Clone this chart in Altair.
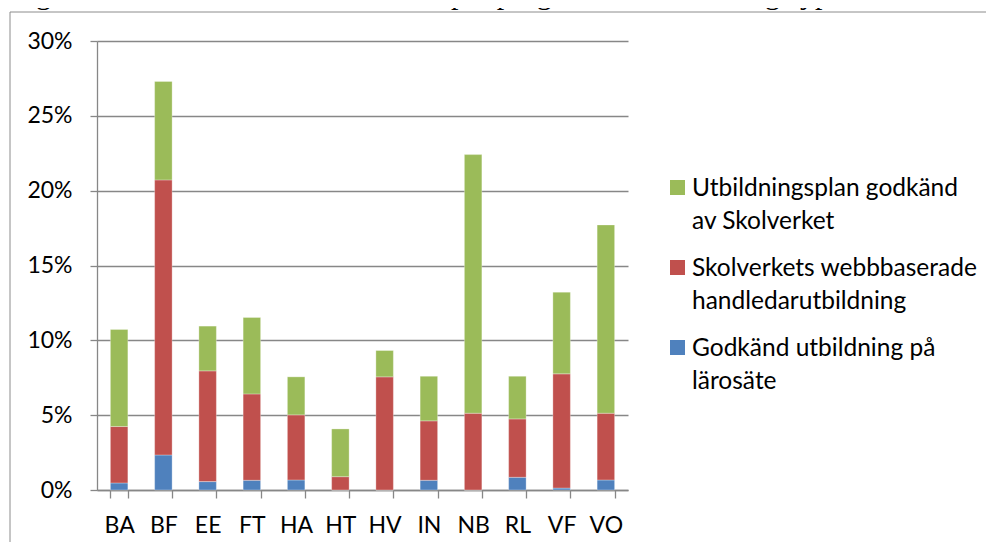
import altair as alt
import pandas as pd

# ---- data (percent values) ----
programs = ["BA", "BF", "EE", "FT", "HA", "HT", "HV", "IN", "NB", "RL", "VF", "VO"]
larosate = [0.47, 2.34, 0.56, 0.65, 0.67, 0.00, 0.00, 0.65, 0.00, 0.85, 0.13, 0.67]
webb     = [3.77, 18.38, 7.40, 5.77, 4.35, 0.89, 7.56, 3.97, 5.13, 3.90, 7.63, 4.46]
plan     = [6.49, 6.58, 2.99, 5.11, 2.54, 3.19, 1.76, 2.98, 17.28, 2.85, 5.46, 12.58]

series = [
    "Utbildningsplan godkänd av Skolverket",
    "Skolverkets webbbaserade handledarutbildning",
    "Godkänd utbildning på lärosäte",
]
legend_line1 = ["Utbildningsplan godkänd", "Skolverkets webbbaserade", "Godkänd utbildning på"]
legend_line2 = ["av Skolverket", "handledarutbildning", "lärosäte"]
colors = ["#9BBB59", "#C0504D", "#4F81BD"]
y_ticks = [0, 5, 10, 15, 20, 25, 30]
title_text = "Figur 6. Andel utbildade handledare per program och utbildningstyp våren 2013"

# ---- tables ----
rows = []
for i, p in enumerate(programs):
    rows.append({"program": p, "series": series[2], "value": larosate[i], "stack_idx": 0})
    rows.append({"program": p, "series": series[1], "value": webb[i], "stack_idx": 1})
    rows.append({"program": p, "series": series[0], "value": plan[i], "stack_idx": 2})
bars_df = pd.DataFrame(rows)
legend_df = pd.DataFrame({"series": series, "line1": legend_line1, "line2": legend_line2})

FONT = "Lato"
GRAY = "#878787"

color_scale = alt.Scale(domain=series, range=colors)

bars = alt.Chart(bars_df).mark_bar(stroke="#ffffff", strokeWidth=0.6, strokeOpacity=0.5).encode(
    x=alt.X(
        "program:N",
        sort=programs,
        scale=alt.Scale(paddingInner=0.605, paddingOuter=0.3025),
        axis=alt.Axis(
            title=None, labelAngle=0, tickBand="extent", tickSize=8,
            labelPadding=16, grid=False, labelFontSize=23, labelFont=FONT,
        ),
    ),
    y=alt.Y(
        "value:Q",
        stack="zero",
        scale=alt.Scale(domain=[0, 30], nice=False),
        axis=alt.Axis(
            title=None, values=y_ticks, labelExpr="datum.value + '%'",
            tickSize=7, labelPadding=18, grid=True,
            labelFontSize=23, labelFont=FONT,
        ),
    ),
    color=alt.Color("series:N", scale=color_scale, legend=None),
    order=alt.Order("stack_idx:Q", sort="ascending"),
)

leg_y = alt.Y("series:N", scale=alt.Scale(domain=series, range=[146.5, 306.5], padding=0), axis=None)

leg_sq = alt.Chart(legend_df).mark_square(size=225, opacity=1).encode(
    x=alt.value(580.5),
    y=leg_y,
    color=alt.Color("series:N", scale=color_scale, legend=None),
)
leg_t1 = alt.Chart(legend_df).mark_text(
    align="left", baseline="middle", dy=1.5, font=FONT, fontSize=24.5, color="black"
).encode(x=alt.value(595), y=leg_y, text="line1:N")
leg_t2 = alt.Chart(legend_df).mark_text(
    align="left", baseline="middle", dy=34, font=FONT, fontSize=24.5, color="black"
).encode(x=alt.value(595), y=leg_y, text="line2:N")

dummy = alt.Data(values=[{"t": title_text}])
frame_left = alt.Chart(dummy).mark_rule(color="#8c8c8c", strokeWidth=1).encode(
    x=alt.value(-87), y=alt.value(-29), y2=alt.value(510)
)
frame_top = alt.Chart(dummy).mark_rule(color="#8c8c8c", strokeWidth=1).encode(
    x=alt.value(-87), x2=alt.value(900), y=alt.value(-29)
)
title = alt.Chart(dummy).mark_text(
    align="left", baseline="alphabetic", font="Liberation Serif", fontSize=30, color="black"
).encode(x=alt.value(-86), y=alt.value(-37.5), text="t:N")

chart = alt.layer(
    frame_left, frame_top, title, bars, leg_sq, leg_t1, leg_t2
).resolve_scale(y="independent").properties(
    width=531,
    height=449,
    autosize=alt.AutoSizeParams(type="none"),
    padding={"left": 89, "top": 33, "right": 358, "bottom": 52},
).configure_view(stroke=None).configure_axis(
    domainColor=GRAY, tickColor=GRAY, gridColor=GRAY,
    domainWidth=1.3, tickWidth=1.3, gridWidth=1.3,
    labelColor="black",
)

chart.save("out.html", embed_options={"renderer": "svg", "actions": False})
